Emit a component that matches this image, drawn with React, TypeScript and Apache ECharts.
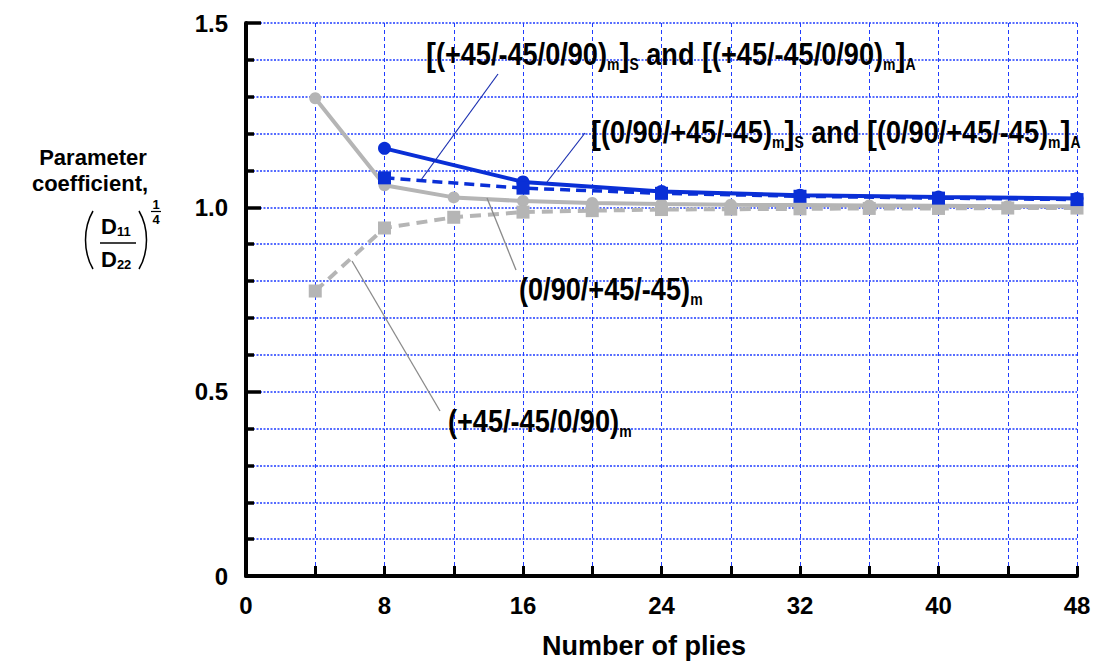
import React, { useEffect, useRef } from "react";
import * as echarts from "echarts";

const pliesAll = [4, 8, 12, 16, 20, 24, 28, 32, 36, 40, 44, 48];
const pliesSA = [8, 16, 24, 32, 40, 48];
// (0/90/+45/-45)m  - gray solid, circles
const grayCircle = [1.296, 1.06, 1.027, 1.017, 1.012, 1.009, 1.007, 1.006, 1.005, 1.004, 1.003, 1.003];
// (+45/-45/0/90)m  - gray dashed, squares
const graySquare = [0.773, 0.944, 0.973, 0.987, 0.991, 0.994, 0.995, 0.996, 0.997, 0.997, 0.998, 0.998];
// [(0/90/+45/-45)m]S and A - blue solid, circles
const blueCircle = [1.16, 1.069, 1.043, 1.033, 1.028, 1.024];
// [(+45/-45/0/90)m]S and A - blue dashed, squares
const blueSquare = [1.08, 1.052, 1.038, 1.03, 1.025, 1.021];

const xMin = 0, xMax = 48, xStep = 8;
const yMin = 0, yMax = 1.5, yStep = 0.5;
const xTitle = "Number of plies";

const FONT = "'Liberation Sans', Arial, Helvetica, sans-serif";
const GRAY = "#b5b5b5";
const BLUE = "#0a2fd6";
const GRID = "#1f3cff";

const pairs = (xs: number[], ys: number[]) => xs.map((x, i) => [x, ys[i]]);

const richAnn = {
  a: { fontSize: 31, fontWeight: "bold", fontFamily: FONT, lineHeight: 36, fill: "#000" },
  b: { fontSize: 34, fontWeight: "bold", fontFamily: FONT, lineHeight: 36, fill: "#000" },
  s: { fontSize: 16, fontWeight: "bold", fontFamily: FONT, lineHeight: 16, verticalAlign: "bottom", fill: "#000" },
};

function annText(x: number, y: number, text: string) {
  return {
    type: "text",
    x,
    y,
    scaleX: 0.875,
    z: 100,
    style: { text, rich: richAnn, fill: "#000", font: `bold 31px ${FONT}` },
  };
}

function leader(x1: number, y1: number, x2: number, y2: number, color: string, w: number) {
  return { type: "line", z: 100, shape: { x1, y1, x2, y2 }, style: { stroke: color, lineWidth: w } };
}

const option = {
  animation: false,
  grid: { left: 246, right: 22, top: 23, bottom: 85 },
  xAxis: {
    type: "value",
    min: xMin,
    max: xMax,
    interval: xStep,
    axisLine: { show: true, onZero: false, lineStyle: { color: "#000", width: 4 } },
    axisTick: { show: true, inside: true, length: 10, lineStyle: { color: "#000", width: 3 } },
    minorTick: { show: true, splitNumber: 2, length: 10, lineStyle: { color: "#000", width: 3 } },
    axisLabel: { fontSize: 24, fontWeight: "bold", fontFamily: FONT, color: "#000", margin: 17 },
    splitLine: { show: true, lineStyle: { color: GRID, width: 1, type: [4, 3] } },
    minorSplitLine: { show: true, lineStyle: { color: GRID, width: 1, type: [4, 3] } },
  },
  yAxis: {
    type: "value",
    min: yMin,
    max: yMax,
    interval: yStep,
    axisLine: { show: true, onZero: false, lineStyle: { color: "#000", width: 4 } },
    axisTick: { show: true, inside: true, length: 15, lineStyle: { color: "#000", width: 3.5 } },
    minorTick: { show: true, splitNumber: 5, length: 8, lineStyle: { color: "#000", width: 3.5 } },
    axisLabel: {
      fontSize: 24,
      fontWeight: "bold",
      fontFamily: FONT,
      color: "#000",
      margin: 18,
      formatter: (v: number) => (v === 0 ? "0" : v.toFixed(1)),
    },
    splitLine: { show: true, lineStyle: { color: GRID, width: 1.6, type: [2, 1.5] } },
    minorSplitLine: { show: true, lineStyle: { color: GRID, width: 1.6, type: [2, 1.5] } },
  },
  series: [
    {
      type: "line",
      data: pairs(pliesAll, grayCircle),
      symbol: "circle",
      symbolSize: 12,
      itemStyle: { color: GRAY },
      lineStyle: { color: GRAY, width: 4 },
      z: 2,
    },
    {
      type: "line",
      data: pairs(pliesAll, graySquare),
      symbol: "rect",
      symbolSize: 13,
      itemStyle: { color: GRAY },
      lineStyle: { color: GRAY, width: 4, type: [11, 7] },
      z: 3,
    },
    {
      type: "line",
      data: pairs(pliesSA, blueCircle),
      symbol: "circle",
      symbolSize: 13,
      itemStyle: { color: BLUE },
      lineStyle: { color: BLUE, width: 4 },
      z: 4,
    },
    {
      type: "line",
      data: pairs(pliesSA, blueSquare),
      symbol: "rect",
      symbolSize: 13,
      itemStyle: { color: BLUE },
      lineStyle: { color: BLUE, width: 3.5, type: [10, 6] },
      z: 5,
    },
  ],
  graphic: [
    // x-axis title
    {
      type: "text",
      x: 644,
      y: 632,
      style: { text: xTitle, font: `bold 27px ${FONT}`, fill: "#000", textAlign: "center", textVerticalAlign: "top" },
    },
    // y-axis title
    {
      type: "text",
      x: 93,
      y: 157,
      style: { text: "Parameter", font: `bold 22px ${FONT}`, fill: "#000", textAlign: "center", textVerticalAlign: "middle" },
    },
    {
      type: "text",
      x: 90,
      y: 183,
      style: { text: "coefficient,", font: `bold 22px ${FONT}`, fill: "#000", textAlign: "center", textVerticalAlign: "middle" },
    },
    // (D11 / D22)^(1/4)
    { type: "bezierCurve", shape: { x1: 93, y1: 211, cpx1: 83, cpy1: 228, cpx2: 83, cpy2: 252, x2: 93, y2: 269 }, style: { stroke: "#000", lineWidth: 1.5, fill: null } },
    { type: "bezierCurve", shape: { x1: 139, y1: 211, cpx1: 149, cpy1: 228, cpx2: 149, cpy2: 252, x2: 139, y2: 269 }, style: { stroke: "#000", lineWidth: 1.5, fill: null } },
    {
      type: "text",
      x: 101,
      y: 214,
      style: {
        text: "{d|D}{n|11}",
        rich: {
          d: { fontSize: 22, fontWeight: "bold", fontFamily: FONT, lineHeight: 24, fill: "#000" },
          n: { fontSize: 13, fontWeight: "bold", fontFamily: FONT, lineHeight: 13, verticalAlign: "bottom", fill: "#000" },
        },
      },
    },
    { type: "line", shape: { x1: 100, y1: 243, x2: 136, y2: 243 }, style: { stroke: "#000", lineWidth: 1.5 } },
    {
      type: "text",
      x: 101,
      y: 247,
      style: {
        text: "{d|D}{n|22}",
        rich: {
          d: { fontSize: 22, fontWeight: "bold", fontFamily: FONT, lineHeight: 24, fill: "#000" },
          n: { fontSize: 13, fontWeight: "bold", fontFamily: FONT, lineHeight: 13, verticalAlign: "bottom", fill: "#000" },
        },
      },
    },
    {
      type: "text",
      x: 156,
      y: 204,
      style: { text: "1", font: `bold 13px ${FONT}`, fill: "#000", textAlign: "center", textVerticalAlign: "middle" },
    },
    { type: "line", shape: { x1: 151, y1: 211.5, x2: 161, y2: 211.5 }, style: { stroke: "#000", lineWidth: 1.2 } },
    {
      type: "text",
      x: 156,
      y: 219,
      style: { text: "4", font: `bold 13px ${FONT}`, fill: "#000", textAlign: "center", textVerticalAlign: "middle" },
    },
    // annotations
    annText(426, 36, "{b|[}{a|(+45/-45/0/90)}{s|m}{b|]}{s|S}{a| and }{b|[}{a|(+45/-45/0/90)}{s|m}{b|]}{s|A}"),
    annText(591, 114, "{b|[}{a|(0/90/+45/-45)}{s|m}{b|]}{s|S}{a| and }{b|[}{a|(0/90/+45/-45)}{s|m}{b|]}{s|A}"),
    annText(519, 271, "{a|(0/90/+45/-45)}{s|m}"),
    annText(448, 403, "{a|(+45/-45/0/90)}{s|m}"),
    leader(498, 74, 421, 180, "#1a2fb0", 1.2),
    leader(585, 133, 547, 182, "#1a2fb0", 1.2),
    leader(487, 198, 516, 270, "#8a8a8a", 1.3),
    leader(352, 261, 440, 411, "#8a8a8a", 1.3),
  ],
};

export default function App() {
  const ref = useRef<HTMLDivElement>(null);
  useEffect(() => {
    const chart = echarts.init(ref.current!, null, { renderer: "svg" });
    chart.setOption(option as any);
    return () => chart.dispose();
  }, []);
  return <div ref={ref} style={{ position: "fixed", left: 0, top: 0, width: 1099, height: 661, background: "#fff" }} />;
}
